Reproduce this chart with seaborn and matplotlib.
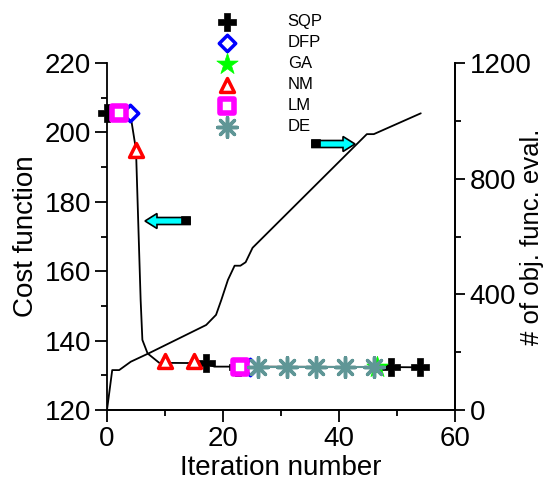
import numpy as np
import pandas as pd
import seaborn as sns
import matplotlib.pyplot as plt
from matplotlib.ticker import MultipleLocator
from matplotlib.patches import FancyArrow, Rectangle

# cost function curve (left axis)
cost_iter = [0, 4, 5, 5.8, 6.1, 7, 9, 17, 18.5, 25, 46, 54]
cost_val = [205.5, 205.5, 195, 151.7, 140.2, 136.3, 133.6, 133.5, 132.5, 132.5, 132.4, 132.3]

# number of objective function evaluations (right axis)
eval_iter = [0, 0.9, 2.1, 4.1, 7.3, 17.1, 18.8, 19.7, 20.85, 22.0, 23.0, 23.9, 25.1, 44.8, 46.0, 54.1]
eval_val = [0, 138, 138, 167, 197, 294, 329, 380, 450, 499, 499, 511, 561, 954, 954, 1026]

# markers for each method
sqp_x = [0, 17, 22.5, 49, 54]
sqp_y = [205.5, 133.5, 132.5, 132.4, 132.3]
dfp_x = [4, 24.6]
dfp_y = [205.5, 132.5]
ga_x = [46.6]
ga_y = [132.5]
nm_x = [5, 10, 15]
nm_y = [195, 134.1, 134.1]
lm_x = [2, 22.9]
lm_y = [205.5, 132.5]
de_x = [26, 31, 36, 41, 46]
de_y = [132.5, 132.5, 132.5, 132.5, 132.5]

sns.set_style('ticks')
plt.rcParams['font.family'] = ['Liberation Sans', 'DejaVu Sans']
plt.rcParams['text.color'] = 'black'
plt.rcParams['axes.labelcolor'] = 'black'
plt.rcParams['xtick.color'] = 'black'
plt.rcParams['ytick.color'] = 'black'
plt.rcParams['axes.edgecolor'] = 'black'

fig = plt.figure(figsize=(5.45, 4.91), dpi=100)
ax = fig.add_axes([107/545, 1-410/491, 348/545, 347/491])
ax2 = ax.twinx()

de_color = '#5f9696'

sns.lineplot(x=cost_iter, y=cost_val, ax=ax, color='black', lw=1.3, zorder=2)
sns.lineplot(x=de_x, y=de_y, ax=ax, color=de_color, lw=1.5, zorder=3)
sns.lineplot(x=eval_iter, y=eval_val, ax=ax2, color='black', lw=1.3)

kw = dict(ax=ax, clip_on=False, zorder=5)
sns.scatterplot(x=sqp_x, y=sqp_y, marker='P', s=160, color='black', edgecolor='black',
                linewidth=0.5, label='SQP', **kw)
sns.scatterplot(x=dfp_x, y=dfp_y, marker='D', s=70, facecolor='white', edgecolor='blue',
                linewidth=2.5, label='DFP', **kw)
sns.scatterplot(x=ga_x, y=ga_y, marker='*', s=260, color='#00ff00', edgecolor='#00ff00',
                linewidth=0.5, label='GA', **kw)
sns.scatterplot(x=nm_x, y=nm_y, marker='^', s=100, facecolor='white', edgecolor='red',
                linewidth=2.5, label='NM', **kw)
sns.scatterplot(x=lm_x, y=lm_y, marker='s', s=110, facecolor='white', edgecolor='magenta',
                linewidth=4, label='LM', **kw)
sns.scatterplot(x=de_x, y=de_y, marker=(8, 2, 0), s=200, color=de_color, edgecolor=de_color,
                linewidth=2.5, label='DE', **kw)

handles, labels = ax.get_legend_handles_labels()
if ax.legend_:
    ax.legend_.remove()
fig.legend(handles, labels, loc='upper left', bbox_to_anchor=(206/545, 1-6/491),
           frameon=False, fontsize=12, labelspacing=0.36, handletextpad=2.9,
           handlelength=1.5, borderpad=0)

ax.set_xlim(0, 60)
ax.set_ylim(120, 220)
ax2.set_ylim(0, 1200)
ax.set_xticks([0, 20, 40, 60])
ax.xaxis.set_minor_locator(MultipleLocator(10))
ax.set_yticks([120, 140, 160, 180, 200, 220])
ax.yaxis.set_minor_locator(MultipleLocator(10))
ax2.set_yticks([0, 400, 800, 1200])
ax2.yaxis.set_minor_locator(MultipleLocator(200))

for a in (ax, ax2):
    a.spines['top'].set_visible(False)
    for s in a.spines.values():
        s.set_linewidth(1.3)
    a.tick_params(which='major', direction='out', length=8.5, width=1.3, labelsize=20, pad=3)
    a.tick_params(which='minor', direction='out', length=4.5, width=1.3)
ax2.spines['left'].set_visible(False)
ax2.tick_params(which='major', length=7.5, pad=3)
ax2.tick_params(which='minor', length=4)

ax.set_xlabel('Iteration number', fontsize=20, labelpad=2)
ax.set_ylabel('Cost function', fontsize=20, labelpad=4)
ax2.set_ylabel('# of obj. func. eval.', fontsize=18.5)
ax2.yaxis.set_label_coords(1.188, 0.5)


def px(x, y):
    return x / 545, 1 - y / 491


def arrow(x_tail, x_head, y):
    (xt, yy), (xh, _) = px(x_tail, y), px(x_head, y)
    d = xh - xt
    fig.patches.append(FancyArrow(xt, yy, d, 0, width=7/491, head_width=15/491,
                                  head_length=12/545, length_includes_head=True,
                                  facecolor='cyan', edgecolor='black', lw=1.2,
                                  transform=fig.transFigure, figure=fig, zorder=10))
    sgn = 1 if d > 0 else -1
    fig.patches.append(Rectangle((xt if sgn > 0 else xt - 8/545, yy - 3.5/491), 8/545, 7/491,
                                 facecolor='black', edgecolor='black', lw=1.2,
                                 transform=fig.transFigure, figure=fig, zorder=11))


arrow(190, 145, 221)
arrow(312, 355, 144)

fig.savefig('out.png', dpi=100)
